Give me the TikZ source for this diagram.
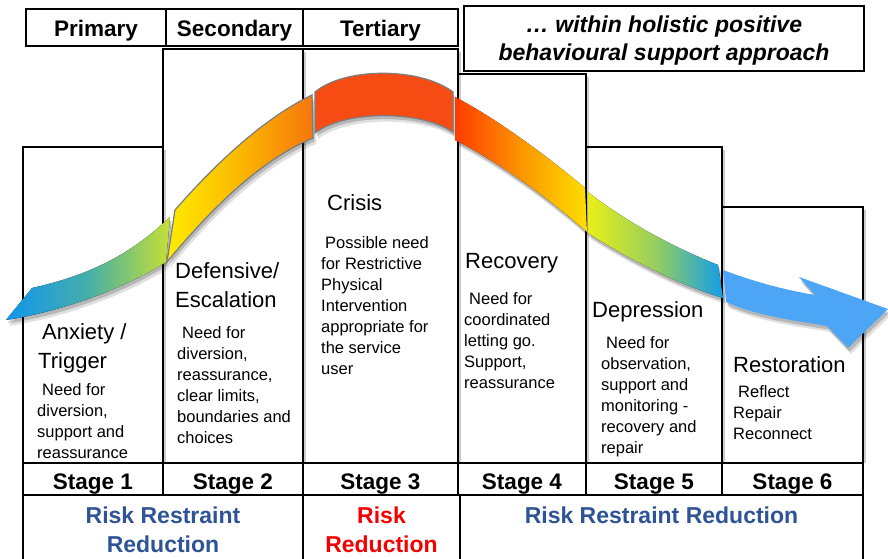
\documentclass[tikz,border=0pt]{standalone}
\usepackage{fontspec}
\setmainfont{Liberation Sans}
\definecolor{riskblue}{RGB}{46,84,150}
\definecolor{riskred}{RGB}{245,0,0}
\definecolor{bandgray}{RGB}{125,125,125}
\definecolor{arrowblue}{RGB}{77,166,245}
\definecolor{aL}{RGB}{15,150,238}
\definecolor{aM}{RGB}{70,174,168}
\definecolor{aR}{RGB}{198,224,52}
\definecolor{bL}{RGB}{255,236,0}
\definecolor{bM}{RGB}{251,184,0}
\definecolor{bR}{RGB}{246,118,12}
\definecolor{cC}{RGB}{246,76,20}
\definecolor{dL}{RGB}{255,60,0}
\definecolor{dM}{RGB}{251,150,0}
\definecolor{dR}{RGB}{255,222,0}
\definecolor{eL}{RGB}{232,240,25}
\definecolor{eM}{RGB}{150,206,95}
\definecolor{eR}{RGB}{18,158,232}
\begin{document}
\begin{tikzpicture}[x=1pt,y=-1pt,
  frame/.style={draw=black,line width=1.4pt},
  hdr/.style={font=\bfseries\fontsize{22.5}{27}\selectfont,inner sep=0pt,anchor=base},
  ttl/.style={font=\fontsize{22}{28.5}\selectfont,inner sep=0pt,anchor=base west,align=left},
  body/.style={font=\fontsize{16.5}{21}\selectfont,inner sep=0pt,anchor=base west,align=left},
  risk/.style={font=\bfseries\fontsize{23}{29}\selectfont,inner sep=0pt,anchor=base,align=center},
  shade1/.style={black,opacity=0.18},
  shade2/.style={black,opacity=0.12},
  segA/.style={insert path={(32,288) .. controls (90,275) and (130,255) .. (170,217) -- (166,262) .. controls (130,285) and (70,310) .. (6,320) -- cycle}},
  segB/.style={insert path={(175,210) .. controls (210,170) and (260,120) .. (312,95) -- (313,138) .. controls (260,160) and (210,210) .. (167,262) -- cycle}},
  segC/.style={insert path={(315,92) .. controls (345,67) and (420,67) .. (453,92) -- (453,132) .. controls (420,110) and (345,110) .. (315,133) -- cycle}},
  segD/.style={insert path={(455,97) .. controls (490,115) and (540,150) .. (585,188) -- (587,232) .. controls (545,195) and (495,160) .. (455,140) -- cycle}},
  segE/.style={insert path={(588,192) .. controls (630,225) and (680,250) .. (718,265) -- (723,298) .. controls (680,285) and (630,260) .. (588,233) -- cycle}},
  segF/.style={insert path={(723,270) .. controls (755,282) and (785,290) .. (815,295) -- (799,277) -- (888,309) -- (848,348) -- (827,326) .. controls (790,320) and (755,315) .. (726,302) -- cycle}}
]
\useasboundingbox (0,0) rectangle (888,559);
\fill[white] (0,0) rectangle (888,559);

% header boxes
\draw[frame] (26,9) rectangle (166,46);
\draw[frame] (166,9) rectangle (303,46);
\draw[frame] (303,9) rectangle (458,46);
\draw[frame] (464,6) rectangle (864,71);
\node[hdr] (hprimary) at (96,37) {Primary};
\node[hdr] (hsecondary) at (234.5,37) {Secondary};
\node[hdr] (htertiary) at (380.5,37) {Tertiary};
\node[font=\bfseries\itshape\fontsize{23}{28}\selectfont,inner sep=0pt,anchor=base,align=center] (holistic) at (664,61) {\ldots\ within holistic positive\\behavioural support approach};

% column shadows
\foreach \xa/\ya/\xb in {23/147/163,163/49/303,303/49/458,458/74/586,586/147/722,722/207/863}{
  \draw[black!20,line width=2pt] (\xb+2,\ya+3) -- (\xb+2,463);
}
% columns
\draw[frame] (23,147) rectangle (163,463);
\draw[frame] (163,49) rectangle (303,463);
\draw[frame] (303,49) rectangle (458,463);
\draw[frame] (458,74) rectangle (586,463);
\draw[frame] (586,147) rectangle (722,463);
\draw[frame] (722,207) rectangle (863,463);

% stage row
\draw[frame] (23,463) rectangle (863,495);
\foreach \x in {163,303,458,586,722}{\draw[frame] (\x,463) -- (\x,495);}
\node[hdr] (st1) at (93,489) {Stage 1};
\node[hdr] (st2) at (233,489) {Stage 2};
\node[hdr] (st3) at (380.5,489) {Stage 3};
\node[hdr] (st4) at (522,489) {Stage 4};
\node[hdr] (st5) at (654,489) {Stage 5};
\node[hdr] (st6) at (792.5,489) {Stage 6};

% bottom boxes
\draw[frame,line width=1.8pt] (23,495) rectangle (303,575);
\draw[frame,line width=1.8pt] (303,495) rectangle (460,575);
\draw[frame,line width=1.8pt] (460,495) rectangle (863,575);
\node[risk,text=riskblue] (rr1) at (163,552) {Risk Restraint\\Reduction};
\node[risk,text=riskred] (rr2) at (381.5,552) {Risk\\Reduction};
\node[risk,text=riskblue] (rr3) at (661.5,523) {Risk Restraint Reduction};

% band shadows
\foreach \s in {segA,segB,segC,segD,segE,segF}{
  \fill[shade1,shift={(1.5,3.5)},\s];
  \fill[shade2,shift={(3,6)},\s];
}
% band segments
\fill[left color=aL,right color=aR,middle color=aM,segA];
\fill[left color=bL,right color=bR,middle color=bM,segB];
\draw[bandgray,line width=1.2pt,segB];
\fill[cC,segC];
\draw[bandgray,line width=1.2pt,segC];
\fill[left color=dL,right color=dR,middle color=dM,segD];
\fill[left color=eL,right color=eR,middle color=eM,segE];
\fill[arrowblue,segF];

% stage titles
\node[ttl] (t1) at (38,368) {\hspace*{4pt}Anxiety /\\Trigger};
\node[ttl] (t2) at (175,307) {Defensive/\\Escalation};
\node[ttl] (t3) at (327,210) {Crisis};
\node[ttl] (t4) at (465,268) {Recovery};
\node[ttl] (t5) at (592,317) {Depression};
\node[ttl] (t6) at (733,372) {Restoration};

% stage texts
\node[body] (b1) at (37,458) {\hspace*{5pt}Need for\\diversion,\\support and\\reassurance};
\node[body] (b2) at (177,443) {\hspace*{5pt}Need for\\diversion,\\reassurance,\\clear limits,\\boundaries and\\choices};
\node[body] (b3) at (321,374) {\hspace*{4pt}Possible need\\for Restrictive\\Physical\\Intervention\\appropriate for\\the service\\user};
\node[body] (b4) at (464,388) {\hspace*{5pt}Need for\\coordinated\\letting go.\\Support,\\reassurance};
\node[body] (b5) at (601,453) {\hspace*{5pt}Need for\\observation,\\support and\\monitoring -\\recovery and\\repair};
\node[body] (b6) at (733,439) {\hspace*{5pt}Reflect\\Repair\\Reconnect};
\end{tikzpicture}
\end{document}
